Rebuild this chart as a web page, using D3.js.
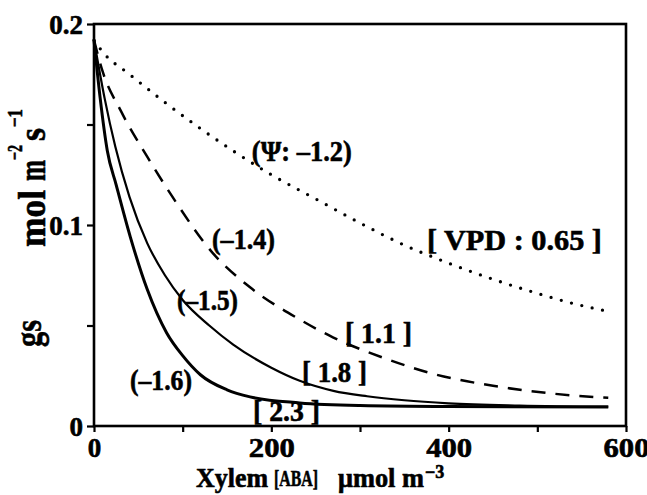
<!DOCTYPE html>
<html><head><meta charset="utf-8">
<script src="https://cdn.jsdelivr.net/npm/d3@7"></script>
<style>
html,body{margin:0;padding:0;background:#fff;}
svg{display:block;}
text{font-family:"Liberation Serif","DejaVu Serif",serif;font-weight:bold;fill:#000;stroke:#000;stroke-width:0.6px;}
</style></head><body>
<svg id="chart" width="647" height="495"></svg>
<script>
// Stomatal conductance (gs) against xylem ABA concentration
// Ψ -1.2 / VPD 0.65 (dotted)
const abaPsi12 = [0, 10, 40, 80, 120, 160, 200, 250, 300, 350, 400, 450, 500, 540, 580];
const gsPsi12  = [0.192, 0.186, 0.175, 0.161, 0.148, 0.136, 0.125, 0.113, 0.101, 0.090, 0.081, 0.073, 0.066, 0.061, 0.057];
// Ψ -1.4 / VPD 1.1 (dashed)
const abaPsi14 = [0, 10, 30, 60, 90, 134, 176, 232, 270, 326, 382, 450, 520, 580];
const gsPsi14  = [0.192, 0.176, 0.157, 0.134, 0.113, 0.086, 0.069, 0.053, 0.044, 0.034, 0.026, 0.020, 0.016, 0.014];
// Ψ -1.5 / VPD 1.8 (thin solid)
const abaPsi15 = [0, 12, 24, 40, 60, 80, 100, 130, 157, 200, 232, 270, 308, 350, 400, 480, 580];
const gsPsi15  = [0.192, 0.163, 0.139, 0.114, 0.091, 0.075, 0.0627, 0.050, 0.0405, 0.029, 0.0225, 0.0175, 0.0148, 0.0128, 0.0113, 0.0102, 0.0096];
// Ψ -1.6 / VPD 2.3 (heavy solid)
const abaPsi16 = [0, 7, 15, 25, 41, 60, 82, 100, 120, 150, 176, 232, 300, 400, 580];
const gsPsi16  = [0.192, 0.163, 0.137, 0.120, 0.094, 0.068, 0.0463, 0.035, 0.0255, 0.018, 0.0145, 0.0115, 0.0102, 0.0097, 0.0095];

const xTicks = [0, 100, 200, 300, 400, 500, 600];
const xTickLabels = ["0", "", "200", "", "400", "", "600"];
const yTicks = [0, 0.05, 0.1, 0.15, 0.2];
const yTickLabels = ["0", "", "0.1", "", "0.2"];

const curveLabels = ["(\u03A8: \u20131.2)", "(\u20131.4)", "(\u20131.5)", "(\u20131.6)"];
const vpdLabels = ["[ VPD : 0.65 ]", "[ 1.1 ]", "[ 1.8 ]", "[ 2.3 ]"];

const svg = d3.select("#chart");
const x = d3.scaleLinear().domain([0, 600]).range([94, 626]);
const y = d3.scaleLinear().domain([0, 0.2]).range([426, 24]);

// axes with outward ticks
const xAxis = d3.axisBottom(x).tickValues(xTicks).tickSize(6).tickPadding(6)
  .tickFormat((d, i) => xTickLabels[i]);
const gx = svg.append("g").attr("transform", `translate(0,${y(0)})`).call(xAxis);
const yAxis = d3.axisLeft(y).tickValues(yTicks).tickSize(7).tickPadding(4)
  .tickFormat((d, i) => yTickLabels[i]);
const gy = svg.append("g").attr("transform", `translate(${x(0)},0)`).call(yAxis);
[gx, gy].forEach(g => {
  g.select(".domain").remove();
  g.selectAll(".tick line").attr("stroke", "#000").attr("stroke-width", 2.2);
  g.selectAll("text").attr("font-size", 27).attr("font-family", null).attr("fill", "#000");
});
gy.selectAll("text").attr("dy", "0.36em");
gx.selectAll("text").attr("dy", "0.72em")
  .filter(function () { return this.textContent.length === 3; })
  .attr("textLength", 46).attr("lengthAdjust", "spacingAndGlyphs");

// frame
svg.append("rect")
  .attr("x", x(0)).attr("y", y(0.2))
  .attr("width", x(600) - x(0)).attr("height", y(0) - y(0.2))
  .attr("fill", "none").attr("stroke", "#000").attr("stroke-width", 2.6);

const line = d3.line().x(d => x(d[0])).y(d => y(d[1])).curve(d3.curveMonotoneX);
const zip = (a, b) => a.map((v, i) => [v, b[i]]);

svg.append("path").datum(zip(abaPsi12, gsPsi12)).attr("d", line)
  .attr("fill", "none").attr("stroke", "#000").attr("stroke-width", 3.3)
  .attr("stroke-linecap", "round").attr("stroke-dasharray", "0 10.6");
svg.append("path").datum(zip(abaPsi14, gsPsi14)).attr("d", line)
  .attr("fill", "none").attr("stroke", "#000").attr("stroke-width", 2.5)
  .attr("stroke-dasharray", "14 10");
svg.append("path").datum(zip(abaPsi15, gsPsi15)).attr("d", line)
  .attr("fill", "none").attr("stroke", "#000").attr("stroke-width", 2.2);
svg.append("path").datum(zip(abaPsi16, gsPsi16)).attr("d", line)
  .attr("fill", "none").attr("stroke", "#000").attr("stroke-width", 3);

// curve annotations: [text, x (ABA), y (gs), text length px]
const notes = [
  [curveLabels[0], 178, 0.1318, 100],
  [curveLabels[1], 133, 0.088, 63],
  [curveLabels[2], 93.6, 0.0577, 61],
  [curveLabels[3], 40.6, 0.0179, 62],
  [vpdLabels[0], 375.5, 0.0876, 175],
  [vpdLabels[1], 283, 0.0413, 67],
  [vpdLabels[2], 234.6, 0.0219, 65],
  [vpdLabels[3], 179.3, 0.0025, 67]
];
svg.selectAll("text.note").data(notes).join("text")
  .attr("class", "note")
  .attr("x", d => x(d[1])).attr("y", d => y(d[2]))
  .attr("font-size", 29)
  .attr("textLength", d => d[3]).attr("lengthAdjust", "spacingAndGlyphs")
  .style("white-space", "pre")
  .text(d => d[0]);

// axis titles
const xt = svg.append("g");
xt.append("text").attr("x", 196).attr("y", 487).attr("font-size", 27)
  .attr("textLength", 72).attr("lengthAdjust", "spacingAndGlyphs").text("Xylem");
xt.append("text").attr("x", 274).attr("y", 486).attr("font-size", 23)
  .attr("textLength", 44).attr("lengthAdjust", "spacingAndGlyphs").text("[ABA]");
xt.append("text").attr("x", 338).attr("y", 487).attr("font-size", 27)
  .attr("textLength", 86).attr("lengthAdjust", "spacingAndGlyphs")
  .style("white-space", "pre").text("\u03BCmol m");
xt.append("text").attr("x", 425).attr("y", 478).attr("font-size", 18)
  .text("\u22123");

const yt = svg.append("g").attr("transform", "translate(45,0) rotate(-90)");
// in rotated space x = -pageY, y = pageX offset
const yPieces = [
  ["gs", 347, -4, 38, 27],
  ["mol", 247, 0, 38, 57],
  ["m", 181, 0, 38, 21],
  ["\u22122", 160, -23, 22, 15],
  ["s", 141, 0, 38, 13],
  ["\u22121", 127, -23, 22, 18]
];
yt.selectAll("text").data(yPieces).join("text")
  .attr("x", d => -d[1]).attr("y", d => d[2])
  .attr("font-size", d => d[3])
  .attr("textLength", d => d[4]).attr("lengthAdjust", "spacingAndGlyphs")
  .text(d => d[0]);
</script>
</body></html>
